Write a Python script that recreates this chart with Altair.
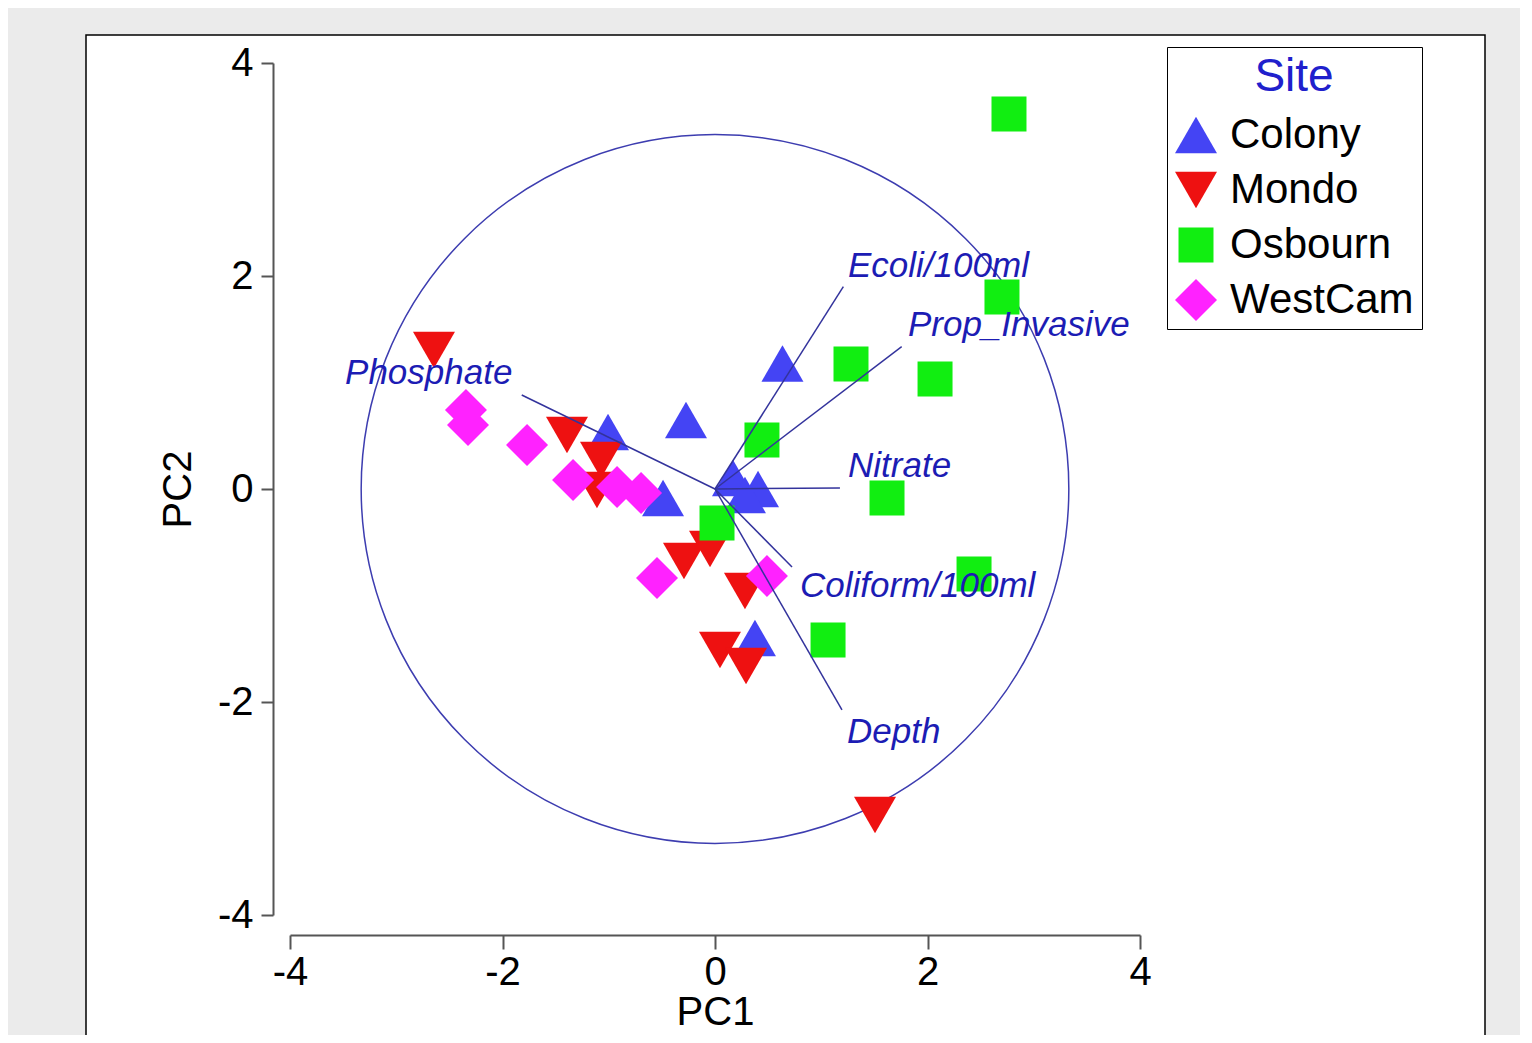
import altair as alt
import pandas as pd

# ---------------- data ----------------
sites = ["Colony", "Mondo", "Osbourn", "WestCam"]
site_colors = ["#4444f4", "#ee1111", "#11ee11", "#ff22ff"]

colony_pc1 = [0.635, -0.273, -1.007, -0.489, 0.169, 0.405, 0.282, 0.376]
colony_pc2 = [1.178, 0.648, 0.535, -0.085, 0.103, 0.000, -0.056, -1.399]

mondo_pc1 = [-2.645, -1.393, -1.073, -1.111, -0.292, -0.047, 0.282, 0.047, 0.292, 1.506]
mondo_pc2 = [1.305, 0.507, 0.272, -0.009, -0.676, -0.563, -0.958, -1.512, -1.662, -3.061]

osbourn_pc1 = [2.767, 2.701, 1.280, 2.071, 0.442, 1.619, 2.438, 1.064, 0.019]
osbourn_pc2 = [3.521, 1.803, 1.174, 1.033, 0.460, -0.085, -0.798, -1.418, -0.319]

westcam_pc1 = [-2.344, -2.325, -1.769, -1.336, -0.922, -0.696, -0.546, 0.489]
westcam_pc2 = [0.742, 0.601, 0.413, 0.085, 0.019, -0.038, -0.836, -0.817]

variables = ["Ecoli/100ml", "Prop_Invasive", "Phosphate", "Nitrate", "Coliform/100ml", "Depth"]
load_pc1 = [1.208, 1.757, -1.819, 1.176, 0.725, 1.195]
load_pc2 = [1.900, 1.336, 0.883, 0.010, -0.732, -2.075]
label_pc1 = [1.252, 1.816, -3.482, 1.252, 0.800, 1.242]
label_pc2 = [1.991, 1.437, 0.986, 0.113, -1.014, -2.385]

axis_ticks = [-4, -2, 0, 2, 4]
circle_radius = 3.33  # correlation circle radius in PC units

# ---------------- tables ----------------
rows = []
for site, xs, ys in [("Colony", colony_pc1, colony_pc2),
                     ("Mondo", mondo_pc1, mondo_pc2),
                     ("WestCam", westcam_pc1, westcam_pc2),
                     ("Osbourn", osbourn_pc1, osbourn_pc2)]:
    for xv, yv in zip(xs, ys):
        rows.append({"Site": site, "PC1": xv, "PC2": yv})
points = pd.DataFrame(rows)

loads = pd.DataFrame({"var": variables, "PC1": load_pc1, "PC2": load_pc2})
labels = pd.DataFrame({"var": variables, "PC1": label_pc1, "PC2": label_pc2})
origin = pd.DataFrame({"PC1": [0.0], "PC2": [0.0]})

W, H = 850, 852
FONT = "Liberation Sans"
LINE = "#33339c"

xscale = alt.Scale(domain=[-4, 4], nice=False, zero=False)
yscale = alt.Scale(domain=[-4, 4], nice=False, zero=False)

common_axis = dict(values=axis_ticks, grid=False, tickWidth=2, tickColor="#555555",
                   domainColor="#555555", domainWidth=2,
                   labelFont=FONT, labelFontSize=40, labelColor="black",
                   labelFlush=False, labelOverlap=False, labelExpr="'' + datum.value",
                   titleFont=FONT, titleFontSize=40, titleFontWeight="normal",
                   titleColor="black", titleBaseline="alphabetic", zindex=1)

x_axis = alt.Axis(title="PC1", offset=20, tickSize=14, labelPadding=3, titleY=89,
                  **common_axis)
y_axis = alt.Axis(title="PC2", offset=17, tickSize=12, labelPadding=8, titleX=-83,
                  **common_axis)

legend = alt.Legend(title="Site", orient="none", legendX=877, legendY=-16,
                    padding=8, strokeColor="black", fillColor="white",
                    titleFont=FONT, titleFontSize=46, titleFontWeight="normal",
                    titleColor="#2020cc", titleAnchor="middle", titlePadding=13,
                    labelFont=FONT, labelFontSize=42, labelColor="black", labelLimit=400,
                    labelOffset=13, symbolSize=1764, symbolStrokeWidth=0,
                    symbolOpacity=1, rowPadding=13, zindex=2)

square_path = "M-0.833,-0.833L0.833,-0.833L0.833,0.833L-0.833,0.833Z"
shapes = ["triangle-up", "triangle-down", square_path, "diamond"]

panel = alt.Chart(pd.DataFrame({"a": [0]})).mark_rect(
    fill="white", stroke="black", strokeWidth=1.5
).encode(x=alt.value(-204), x2=alt.value(1195), y=alt.value(-28), y2=alt.value(1000))

circle_px = circle_radius * W / 8.0
circle = alt.Chart(origin).mark_point(
    shape="circle", filled=False, size=(2 * circle_px) ** 2,
    stroke="#3d3db0", strokeWidth=1.5, opacity=1
).encode(x=alt.X("PC1:Q", scale=xscale, axis=x_axis),
         y=alt.Y("PC2:Q", scale=yscale, axis=y_axis))

pts = alt.Chart(points).mark_point(filled=True, size=1764, opacity=1, strokeWidth=0).encode(
    x=alt.X("PC1:Q", scale=xscale),
    y=alt.Y("PC2:Q", scale=yscale),
    color=alt.Color("Site:N", scale=alt.Scale(domain=sites, range=site_colors), legend=legend),
    shape=alt.Shape("Site:N", scale=alt.Scale(domain=sites, range=shapes), legend=legend),
)

rules = alt.Chart(loads).mark_rule(color=LINE, strokeWidth=1.5).encode(
    x=alt.X("PC1:Q", scale=xscale), y=alt.Y("PC2:Q", scale=yscale),
    x2=alt.datum(0), y2=alt.datum(0))

texts = alt.Chart(labels).mark_text(
    align="left", baseline="alphabetic", font=FONT, fontStyle="italic",
    fontSize=35, color="#1c1cb4"
).encode(x=alt.X("PC1:Q", scale=xscale), y=alt.Y("PC2:Q", scale=yscale), text="var:N")

chart = alt.layer(panel, circle, pts, rules, texts).properties(
    width=W, height=H,
    autosize=alt.AutoSizeParams(type="none"),
    padding={"left": 282, "top": 55, "right": 380, "bottom": 120},
    background="#ebebeb",
).configure_view(strokeWidth=0)

chart.save("out.html", embed_options={"renderer": "svg", "actions": False})
